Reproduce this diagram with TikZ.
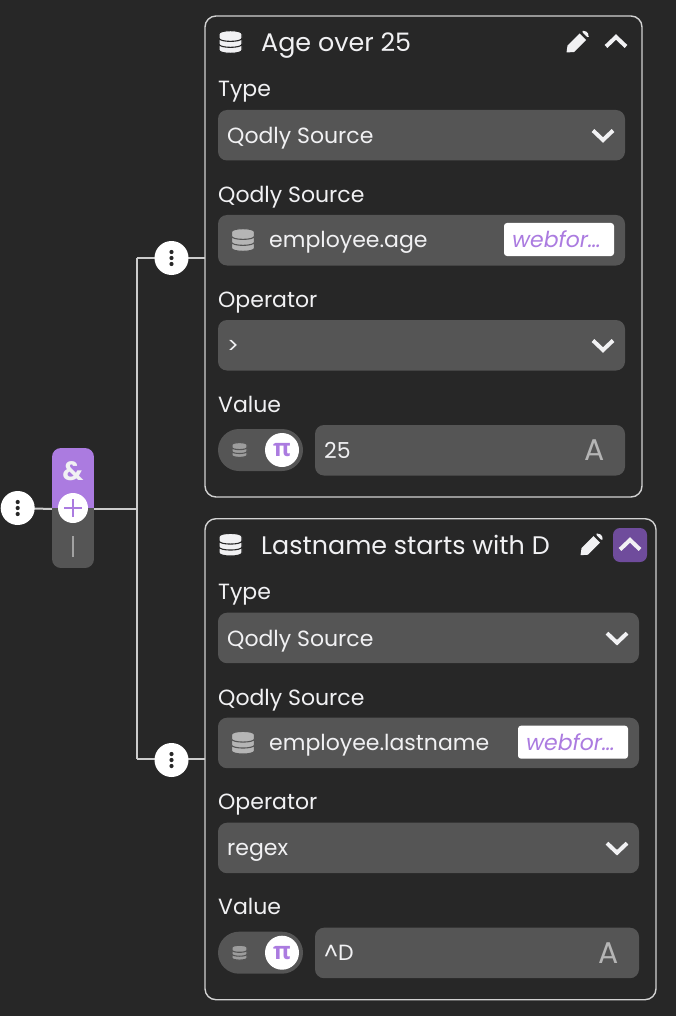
\documentclass[tikz,border=0pt]{standalone}
\usepackage{fontspec}
\setmainfont{Poppins}
\newfontfamily\pifont{Open Sans}
\definecolor{bgc}{HTML}{272727}
\definecolor{fieldc}{HTML}{555555}
\definecolor{linec}{HTML}{CCCCCC}
\definecolor{borderc}{HTML}{D2D2D2}
\definecolor{textc}{HTML}{F1F1F3}
\definecolor{purplec}{HTML}{AB7BE0}
\definecolor{darkpurple}{HTML}{6F4C9C}
\definecolor{iconc}{HTML}{B5B5B5}
\tikzset{
  x=1pt,y=-1pt,
  card/.style={draw=borderc,line width=1.4pt,rounded corners=11pt,fill=bgc,inner sep=0},
  field/.style={fill=fieldc,rounded corners=9pt},
  title/.style={anchor=base west,inner sep=0,text=textc,font=\fontsize{25.4}{28}\selectfont},
  flabel/.style={anchor=base west,inner sep=0,text=textc,font=\fontsize{22}{26}\selectfont},
  ftext/.style={anchor=base west,inner sep=0,text=textc,font=\fontsize{22}{26}\selectfont},
  tagtext/.style={anchor=base,inner sep=0,text=purplec,font=\itshape\fontsize{22}{26}\selectfont},
  dotsbtn/.style={circle,fill=white,minimum size=34pt,inner sep=0},
  wire/.style={draw=linec,line width=2pt},
  chev/.style={line width=4pt,draw=textc,line cap=butt,line join=miter},
}
% database icon: centre x,y, half-width, fill, gap colour
\newcommand{\dbicon}[5]{%
  \begin{scope}[shift={(#1,#2)}]
    \foreach \yy in {1,0,-1}{
      \fill[#4,draw=#5,line width=1.1pt] (-#3,\yy*#3*0.52-#3*0.18) -- (-#3,\yy*#3*0.52+#3*0.18)
        .. controls (-#3,\yy*#3*0.52+#3*0.56) and (#3,\yy*#3*0.52+#3*0.56) .. (#3,\yy*#3*0.52+#3*0.18)
        -- (#3,\yy*#3*0.52-#3*0.18)
        .. controls (#3,\yy*#3*0.52-#3*0.56) and (-#3,\yy*#3*0.52-#3*0.56) .. (-#3,\yy*#3*0.52-#3*0.18) -- cycle;
    }
  \end{scope}}
\newcommand{\pencil}[2]{%
  \begin{scope}[shift={(#1,#2)}]
    \fill[textc] (-11.5,10.5) -- (-10.5,3.5) -- (1.5,-8.5) -- (8,-2) -- (-4,10) -- cycle;
    \fill[textc,rounded corners=2pt] (3.5,-10.5) -- (6.5,-12) -- (11.5,-7) -- (10,-4) -- cycle;
  \end{scope}}
\newcommand{\dropchev}[2]{\draw[chev] (#1-10,#2-5.5) -- (#1,#2+4) -- (#1+10,#2-5.5);}
\newcommand{\upchev}[2]{\draw[chev] (#1-10,#2+4.5) -- (#1,#2-5) -- (#1+10,#2+4.5);}
% name, y offset, right edge, title, source, operator, value, pencil x
\newcommand{\qcard}[8]{%
  \begin{scope}[yshift=-#2pt]
    \path[card] (205,16) rectangle (#3,497);
    \dbicon{230.5}{42}{11.5}{textc}{bgc}
    \node[title] (#1-title) at (261,52) {#4};
    \pencil{#8}{42}
    \node[flabel] (#1-l1) at (218,97) {Type};
    \path[field] (218,110) rectangle (#3-17,160.5);
    \node[ftext] (#1-t1) at (227,143.5) {Qodly Source};
    \dropchev{#3-39}{136}
    \node[flabel] (#1-l2) at (218,203) {Qodly Source};
    \path[field] (218,215) rectangle (#3-17,265.5);
    \dbicon{243}{240}{11.5}{iconc}{fieldc}
    \node[ftext] (#1-t2) at (269,247.5) {#5};
    \path[fill=white,rounded corners=3pt] (#3-138,223) rectangle (#3-28,256);
    \node[tagtext] (#1-tag) at (#3-85.5,247.5) {webfor…};
    \node[flabel] (#1-l3) at (218,307) {Operator};
    \path[field] (218,320) rectangle (#3-17,370.5);
    \node[ftext] (#1-t3) at (227,353) {#6};
    \dropchev{#3-39}{346}
    \node[flabel] (#1-l4) at (218,412) {Value};
    \path[fill=fieldc,rounded corners=21pt] (218,429) rectangle (303,471);
    \dbicon{239.5}{450}{7.5}{iconc!75!fieldc}{fieldc}
    \node[circle,fill=white,minimum size=34pt,inner sep=0,text=purplec,font=\pifont\bfseries\fontsize{24}{25}\selectfont] (#1-pi) at (282,450) {π};
    \path[field] (315,425) rectangle (#3-17,475.5);
    \node[ftext] (#1-t4) at (324,458) {#7};
    \node[anchor=center,inner sep=0,text=iconc,font=\fontsize{30}{32}\selectfont] (#1-a) at (#3-47,450) {A};
  \end{scope}}
\begin{document}
\begin{tikzpicture}
\useasboundingbox[fill=bgc] (0,0) rectangle (676,1016);
% wires
\coordinate (busTop) at (137,258);
\coordinate (busMid) at (137,509);
\coordinate (busBot) at (137,759);
\coordinate (inA) at (205,258);
\coordinate (inB) at (205,759);
\coordinate (pillE) at (94,509);
\coordinate (pillW) at (52,509);
\draw[wire] (busTop) -- (busBot);
\draw[wire] (busTop) -- (inA);
\draw[wire] (busBot) -- (inB);
\draw[wire] (pillE) -- (busMid);
\draw[wire] (17,508) -- (pillW);
\foreach \n/\x/\y in {L/17.7/508,A/171.5/258,B/171.5/760}{
  \node[dotsbtn] (dots\n) at (\x,\y) {};
  \foreach \d in {-6,0,6} \fill[bgc] (\x,\y+\d) circle (2.1);
}
% operator pill
\begin{scope}
  \clip[rounded corners=9pt] (52,448) rectangle (94,568);
  \fill[fieldc] (52,508) rectangle (94,568);
  \fill[purplec] (52,448) rectangle (94,508);
\end{scope}
\node[inner sep=0,text=textc,font=\bfseries\fontsize{26.5}{30}\selectfont] (amp) at (73,471) {\&};
\node[circle,fill=white,minimum size=30pt,inner sep=0] (plus) at (73,508) {};
\draw[purplec,line width=1.6pt] (plus.center) ++(-9,0) -- ++(18,0);
\draw[purplec,line width=1.6pt] (plus.center) ++(0,-9) -- ++(0,18);
\coordinate (barT) at (73,536);
\coordinate (barB) at (73,557);
\draw[draw=iconc!80!fieldc,line width=1.6pt] (barT) -- (barB);
% cards
\qcard{A}{0}{642}{Age over 25}{employee.age}{>}{25}{578}
\upchev{616}{42}
\qcard{B}{502.7}{656}{Lastname starts with D}{employee.lastname}{regex}{\textasciicircum D}{592}
\fill[darkpurple,rounded corners=7pt] (613,528) rectangle (647,562);
\upchev{630}{545}
\end{tikzpicture}
\end{document}
